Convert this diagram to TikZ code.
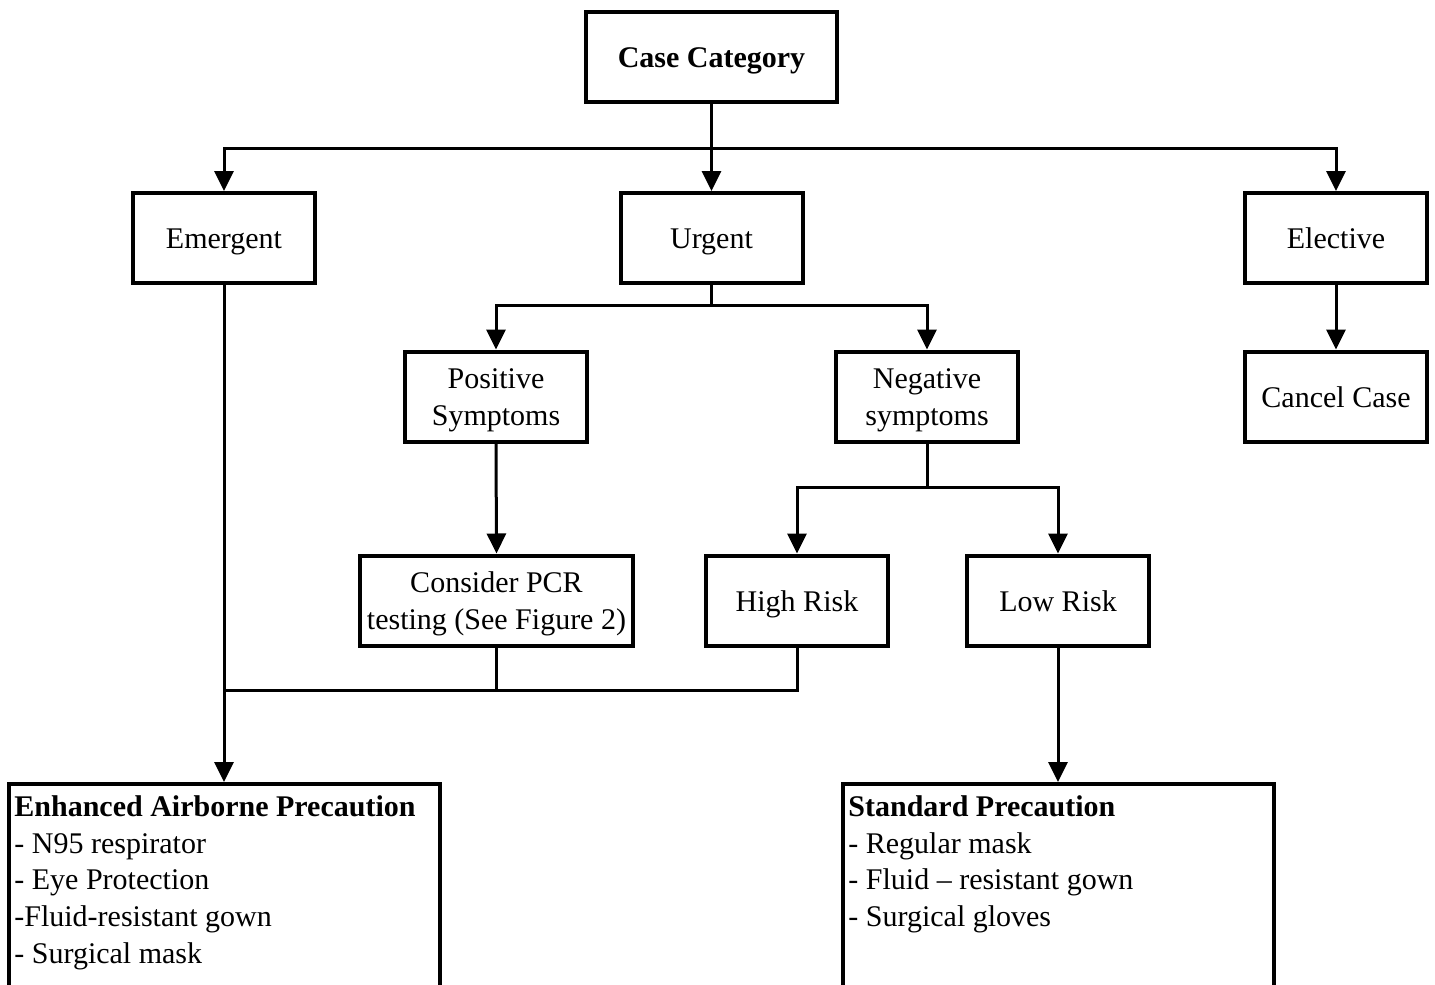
\documentclass[tikz,border=0pt]{standalone}
\usepackage{fontspec}
\setmainfont{Liberation Serif}
\usetikzlibrary{arrows.meta,positioning}
% extra room above the first line of two-line labels
\newcommand{\topgap}{\rule{0pt}{14pt}}
\begin{document}
\begin{tikzpicture}[x=0.5pt,y=-0.5pt,
  font=\fontsize{15}{18.5}\selectfont,
  box/.style={draw, line width=2pt, fill=white, minimum width=91pt, minimum height=45pt, inner sep=2pt, align=center},
  oneline/.style={text height=14pt, text depth=3.2pt},
  wire/.style={line width=1.5pt},
  arr/.style={line width=1.5pt, -{Triangle[width=9.5pt,length=10pt]}},
  bigbox/.style={draw, line width=2pt, fill=white, minimum width=215.5pt, minimum height=140pt, anchor=north},
  listtext/.style={anchor=north west, align=left, inner sep=0pt, font=\fontsize{15}{18.3}\selectfont}
]
\clip (0,0) rectangle (1435,985);
\fill[white] (0,0) rectangle (1435,985);

% top level
\node[box, oneline, minimum width=125.5pt, font=\fontsize{15}{18.5}\selectfont\bfseries] (cc) at (711.5,57) {Case Category};
\node[box, oneline] (em) at (224,238) {Emergent};
\node[box, oneline] (urg) at (711.5,238) {Urgent};
\node[box, oneline] (el) at (1336,238) {Elective};

% second level
\node[box] (pos) at (496,396.5) {\topgap Positive\\Symptoms};
\node[box] (neg) at (927,396.5) {\topgap Negative\\symptoms};
\node[box, oneline] (cancel) at (1336,396.5) {Cancel Case};

% third level
\node[box, minimum width=136.5pt] (pcr) at (496.5,600.5) {\topgap Consider PCR\\testing (See Figure 2)};
\node[box, oneline] (high) at (797,600.5) {High Risk};
\node[box, oneline] (low) at (1058,600.5) {Low Risk};

% precaution boxes
\node[bigbox] (enh) at (224.5,782) {};
\node[listtext] (enhtext) at (14,795.5) {\textbf{Enhanced Airborne Precaution}\\- N95 respirator\\- Eye Protection\\-Fluid-resistant gown\\- Surgical mask};
\node[bigbox] (std) at (1058.5,782) {};
\node[listtext] (stdtext) at (848,795.5) {\textbf{Standard Precaution}\\- Regular mask\\- Fluid -- resistant gown\\- Surgical gloves};

% branch points
\coordinate (bus1) at (711.5,148);
\coordinate (bus2) at (711.5,305);
\coordinate (bus3) at (927,487);
\coordinate (merge) at (224,690);

% connectors
\draw[arr] (cc.south) -- (urg.north);
\draw[arr] (bus1) -| (em.north);
\draw[arr] (bus1) -| (el.north);
\draw[wire] (urg.south) -- (bus2);
\draw[arr] (bus2) -| (pos.north);
\draw[arr] (bus2) -| (neg.north);
\draw[arr] (el.south) -- (cancel.north);
\draw[arr] (pos.south) -- (pcr.north);
\draw[wire] (neg.south) -- (bus3);
\draw[arr] (bus3) -| (high.north);
\draw[arr] (bus3) -| (low.north);
\draw[wire] (pcr.south) |- (merge);
\draw[wire] (high.south) |- (merge);
\draw[arr] (em.south) -- (em.south |- enh.north);
\draw[arr] (low.south) -- (low.south |- std.north);
\end{tikzpicture}
\end{document}
